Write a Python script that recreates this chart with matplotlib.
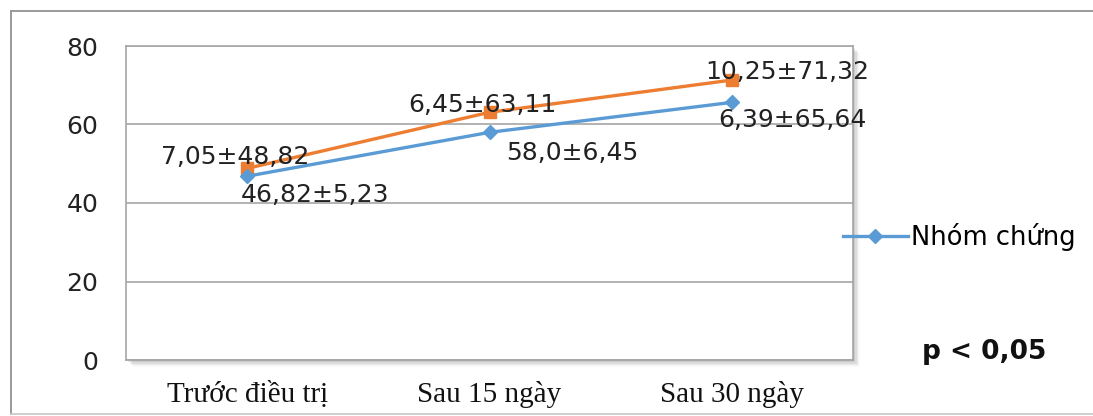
import matplotlib.pyplot as plt
from matplotlib.patches import Rectangle
from matplotlib.lines import Line2D

# data
categories = ["Trước điều trị", "Sau 15 ngày", "Sau 30 ngày"]
control_vals = [46.82, 58.0, 65.64]
treat_vals = [48.82, 63.11, 71.32]
control_labels = ["46,82±5,23", "58,0±6,45", "6,39±65,64"]
treat_labels = ["7,05±48,82", "6,45±63,11", "10,25±71,32"]

BLUE = "#5B9BD5"
ORANGE = "#ED7D31"

fig = plt.figure(figsize=(10.93, 4.16), dpi=100)
fig.patch.set_facecolor("white")

# outer chart frame (open on the right)
W, H = 1093, 416
fx0, fy_top, fy_bot = 10.5 / W, 1 - 10.5 / H, 1 - 414 / H
fig.add_artist(Line2D([fx0, 1.0], [fy_top, fy_top], transform=fig.transFigure,
                      color="#9a9a9a", linewidth=1.4))
fig.add_artist(Line2D([fx0, fx0], [fy_top, fy_bot], transform=fig.transFigure,
                      color="#9a9a9a", linewidth=1.4))
fig.add_artist(Line2D([fx0, 1.0], [fy_bot, fy_bot], transform=fig.transFigure,
                      color="#c8c8c8", linewidth=1.2))

ax_l, ax_b, ax_w, ax_h = 126 / W, 1 - 360 / H, 727 / W, 314 / H

# soft shadow on the right/bottom of the plot area
for i, a in enumerate([0.10, 0.08, 0.06, 0.04, 0.025, 0.015]):
    d = (i + 1) * 1.2
    fig.add_artist(Rectangle((ax_l + d / W, ax_b - d / H), ax_w, ax_h,
                             transform=fig.transFigure, facecolor="black",
                             edgecolor="none", alpha=a, zorder=0))

ax = fig.add_axes([ax_l, ax_b, ax_w, ax_h])
ax.set_facecolor("white")
ax.set_zorder(1)

x = list(range(len(categories)))
ax.plot(x, treat_vals, color=ORANGE, linewidth=2.4, marker="s", markersize=9,
        label="Nhóm nghiên cứu")
ax.plot(x, control_vals, color=BLUE, linewidth=2.4, marker="D", markersize=7,
        label="Nhóm chứng")

ax.set_xlim(-0.5, 2.5)
ax.set_ylim(0, 80)
ax.set_yticks([0, 20, 40, 60, 80])
ax.grid(axis="y", color="#a6a6a6", linewidth=1.2)
ax.set_axisbelow(True)
for s in ax.spines.values():
    s.set_color("#a6a6a6")
    s.set_linewidth(1.2)
ax.tick_params(length=0)
ax.tick_params(axis="y", labelsize=18, pad=20, labelcolor="#222222")
ax.set_xticks(x)
ax.set_xticklabels(categories, fontsize=21, family="Liberation Serif", color="#111111")
ax.tick_params(axis="x", pad=15)

lbl = dict(fontsize=18, color="#222222", va="center", ha="center")
# value labels for the treated group (orange)
offs_t = [(-0.05, 3.0), (-0.03, 1.9), (0.23, 2.1)]
for xi, v, t, (dx, dy) in zip(x, treat_vals, treat_labels, offs_t):
    ax.text(xi + dx, v + dy, t, **lbl)
# value labels for the control group (blue)
offs_c = [(0.28, -4.8), (0.34, -5.3), (0.25, -4.5)]
for xi, v, t, (dx, dy) in zip(x, control_vals, control_labels, offs_c):
    ax.text(xi + dx, v + dy, t, **lbl)

# legend: only the control series is visible on the right
h, l = ax.get_legend_handles_labels()
fig.legend([h[1]], [l[1]], loc="center left", bbox_to_anchor=(833 / W, 1 - 237 / H),
           frameon=False, fontsize=18.5, handlelength=2.5, handletextpad=0.15,
           borderaxespad=0)

fig.text(984 / W, 1 - 352 / H, "p < 0,05", fontsize=19, fontweight="bold",
         ha="center", va="center", color="#111111")

plt.savefig("out.png", dpi=100)
